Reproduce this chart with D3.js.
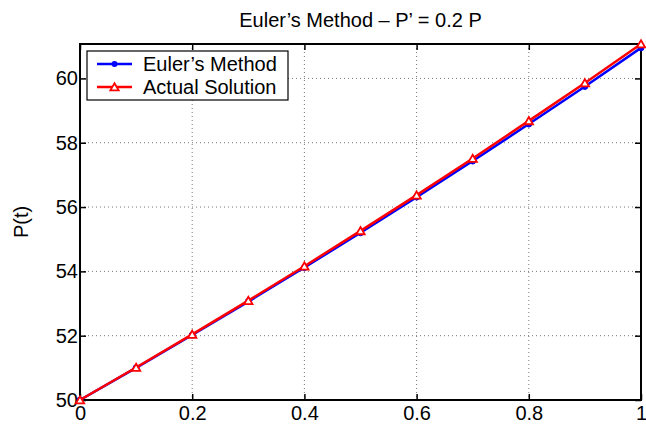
<!DOCTYPE html>
<html>
<head>
<meta charset="utf-8">
<title>Euler's Method</title>
<script src="https://cdn.jsdelivr.net/npm/d3@7"></script>
<style>
  body { margin: 0; background: #fff; }
  text { font-family: "Liberation Sans", Arial, sans-serif; fill: #000; }
</style>
</head>
<body>
<script>
// data
var tValues = [0, 0.1, 0.2, 0.3, 0.4, 0.5, 0.6, 0.7, 0.8, 0.9, 1.0];
var eulerValues = [50, 51.00, 52.02, 53.06, 54.12, 55.20, 56.31, 57.43, 58.58, 59.75, 60.95];
var actualValues = [50, 51.01, 52.04, 53.09, 54.16, 55.26, 56.37, 57.51, 58.68, 59.86, 61.07];
var xTicks = [0, 0.2, 0.4, 0.6, 0.8, 1];
var yTicks = [50, 52, 54, 56, 58, 60];

var width = 646, height = 424;
var mLeft = 80, mRight = 641, mTop = 44, mBottom = 400;
var fs = 20;

var svg = d3.select("body").append("svg")
  .attr("width", width)
  .attr("height", height);

var x = d3.scaleLinear().domain([0, 1]).range([mLeft, mRight]);
var y = d3.scaleLinear().domain([50, 61.07]).range([mBottom, mTop]);

// grid
var grid = svg.append("g");
grid.selectAll(".gx").data(xTicks.slice(1, -1)).enter().append("line")
  .attr("x1", function(d) { return x(d); }).attr("x2", function(d) { return x(d); })
  .attr("y1", mTop).attr("y2", mBottom)
  .attr("stroke", "#777").attr("stroke-width", 1).attr("stroke-dasharray", "1,3");
grid.selectAll(".gy").data(yTicks.slice(1)).enter().append("line")
  .attr("y1", function(d) { return y(d); }).attr("y2", function(d) { return y(d); })
  .attr("x1", mLeft).attr("x2", mRight)
  .attr("stroke", "#777").attr("stroke-width", 1).attr("stroke-dasharray", "1,3");

// axes, ticks pointing inward
var xAxis = d3.axisBottom(x).tickValues(xTicks).tickSizeInner(-6).tickSizeOuter(0)
  .tickFormat(function(d) { return d === 0 || d === 1 ? d : d3.format(".1f")(d); });
svg.append("g").attr("transform", "translate(0," + mBottom + ")").call(xAxis)
  .call(function(g) { g.select(".domain").remove(); })
  .selectAll("text").attr("font-size", fs).attr("y", 20).attr("dy", null);

var xTop = d3.axisTop(x).tickValues(xTicks).tickSizeInner(-6).tickSizeOuter(0).tickFormat("");
svg.append("g").attr("transform", "translate(0," + mTop + ")").call(xTop)
  .call(function(g) { g.select(".domain").remove(); });

var yAxis = d3.axisLeft(y).tickValues(yTicks).tickSizeInner(-6).tickSizeOuter(0).tickPadding(3);
svg.append("g").attr("transform", "translate(" + mLeft + ",0)").call(yAxis)
  .call(function(g) { g.select(".domain").remove(); })
  .selectAll("text").attr("font-size", fs).attr("x", -2);

var yRight = d3.axisRight(y).tickValues(yTicks).tickSizeInner(-6).tickSizeOuter(0).tickFormat("");
svg.append("g").attr("transform", "translate(" + mRight + ",0)").call(yRight)
  .call(function(g) { g.select(".domain").remove(); });

svg.selectAll(".tick line").attr("stroke", "#000").attr("stroke-width", 1.5);

// box
svg.append("rect")
  .attr("x", mLeft).attr("y", mTop)
  .attr("width", mRight - mLeft).attr("height", mBottom - mTop)
  .attr("fill", "none").attr("stroke", "#000").attr("stroke-width", 2);

// lines
var lineFn = function(vals) {
  return d3.line().x(function(d, i) { return x(tValues[i]); }).y(function(d) { return y(d); })(vals);
};

svg.append("path").attr("d", lineFn(eulerValues))
  .attr("fill", "none").attr("stroke", "#0000ff").attr("stroke-width", 2.5);
svg.selectAll(".dot").data(eulerValues).enter().append("circle")
  .attr("cx", function(d, i) { return x(tValues[i]); })
  .attr("cy", function(d) { return y(d); })
  .attr("r", 3).attr("fill", "#0000ff").attr("stroke", "#0000ff");

var tri = d3.symbol().type(d3.symbolTriangle).size(30);
svg.append("path").attr("d", lineFn(actualValues))
  .attr("fill", "none").attr("stroke", "#ff0000").attr("stroke-width", 2.5);
svg.selectAll(".tri").data(actualValues).enter().append("path")
  .attr("d", tri)
  .attr("transform", function(d, i) { return "translate(" + x(tValues[i]) + "," + (y(d) + 1) + ")"; })
  .attr("fill", "#fff").attr("stroke", "#ff0000").attr("stroke-width", 1.8);

// title and label
svg.append("text").attr("x", (mLeft + mRight) / 2).attr("y", 27)
  .attr("text-anchor", "middle").attr("font-size", fs)
  .text("Euler\u2019s Method \u2013 P\u2019 = 0.2 P");

svg.append("text").attr("transform", "translate(28," + ((mTop + mBottom) / 2) + ") rotate(-90)")
  .attr("text-anchor", "middle").attr("font-size", fs)
  .text("P(t)");

// legend
var legend = svg.append("g");
legend.append("rect").attr("x", 87).attr("y", 51).attr("width", 201).attr("height", 49)
  .attr("fill", "#fff").attr("stroke", "#000").attr("stroke-width", 1.2);

var rows = [
  { name: "Euler\u2019s Method", color: "#0000ff", mark: "dot" },
  { name: "Actual Solution", color: "#ff0000", mark: "tri" }
];
rows.forEach(function(r, i) {
  var cy = 64 + i * 23;
  legend.append("line").attr("x1", 97).attr("x2", 132).attr("y1", cy).attr("y2", cy)
    .attr("stroke", r.color).attr("stroke-width", 2.5);
  if (r.mark === "dot") {
    legend.append("circle").attr("cx", 114.5).attr("cy", cy).attr("r", 3).attr("fill", r.color);
  } else {
    legend.append("path").attr("d", tri).attr("transform", "translate(114.5," + (cy + 1) + ")")
      .attr("fill", "#fff").attr("stroke", r.color).attr("stroke-width", 1.8);
  }
  legend.append("text").attr("x", 143).attr("y", cy + 7).attr("font-size", fs).text(r.name);
});
</script>
</body>
</html>
